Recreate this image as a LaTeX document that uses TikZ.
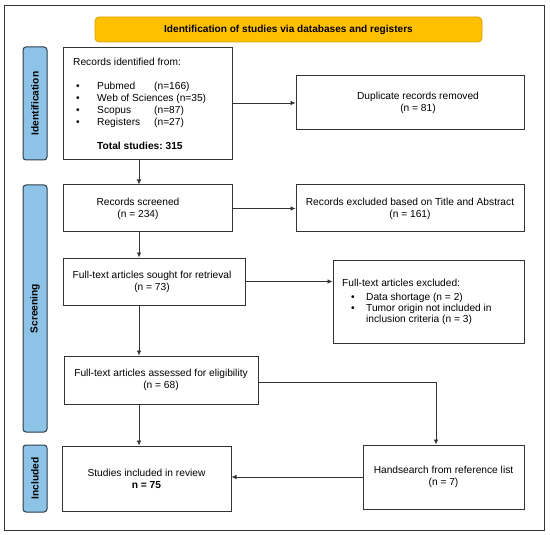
\documentclass[tikz,border=0pt]{standalone}
\usepackage{fontspec}
\setmainfont{Liberation Sans}
\usetikzlibrary{arrows.meta}
\frenchspacing
\definecolor{bannerfill}{HTML}{FFC000}
\definecolor{bannerline}{HTML}{D9A000}
\definecolor{sidefill}{HTML}{8EC3E8}
\definecolor{sideline}{HTML}{2E3B48}
\definecolor{frameline}{HTML}{333333}
\tikzset{
  box/.style={draw=frameline, line width=1pt, fill=white, inner sep=0pt, align=center,
    font=\fontsize{10.2}{12}\selectfont},
  sidebar/.style={draw=sideline, line width=1pt, fill=sidefill, rounded corners=3pt, inner sep=0pt,
    minimum width=24pt},
  sidetext/.style={rotate=90, font=\bfseries\fontsize{10.2}{12}\selectfont},
  banner/.style={draw=bannerline, line width=0.8pt, fill=bannerfill, rounded corners=4pt, inner sep=0pt,
    font=\bfseries\fontsize{10.1}{12}\selectfont},
  txt/.style={inner sep=0pt, anchor=base west, font=\fontsize{10.2}{12}\selectfont},
  ctxt/.style={inner sep=0pt, align=center, font=\fontsize{10.2}{12}\selectfont},
  arr/.style={draw=frameline, line width=0.7pt, -{Latex[length=5pt,width=4.5pt]}},
  ln/.style={draw=frameline, line width=0.7pt}
}
\begin{document}
\begin{tikzpicture}[x=1pt,y=-1pt]
\useasboundingbox (0,0) rectangle (550,535);
\draw[draw=frameline, line width=1pt] (4,6) rectangle (544,530);
% banner
\node[banner, minimum width=387pt, minimum height=25pt] (ban) at (288.5,29.5) {Identification of studies via databases and registers};
% side bars
\node[sidebar, minimum height=113pt] (sid) at (35,103.5) {};
\node[sidetext] (sidt) at (sid) {Identification};
\node[sidebar, minimum height=247pt] (sscr) at (35,308.5) {};
\node[sidetext] (sscrt) at (sscr) {Screening};
\node[sidebar, minimum height=67pt] (sinc) at (35,478.5) {};
\node[sidetext] (sinct) at (sinc) {Included};
% boxes
\node[box, minimum width=169pt, minimum height=112pt] (b1) at (147.5,104) {};
\node[txt] (b1t) at (73,66) {Records identified from:};
\node[txt] (b1a) at (76,89.5) {\textbullet};
\node[txt] (b1b) at (76,101.5) {\textbullet};
\node[txt] (b1c) at (76,113.5) {\textbullet};
\node[txt] (b1d) at (76,125.5) {\textbullet};
\node[txt] (p1) at (97,89.5) {Pubmed};
\node[txt] (p2) at (97,101.5) {Web of Sciences (n=35)};
\node[txt] (p3) at (97,113.5) {Scopus};
\node[txt] (p4) at (97,125.5) {Registers};
\node[txt] (n1) at (154,89.5) {(n=166)};
\node[txt] (n3) at (154,113.5) {(n=87)};
\node[txt] (n4) at (154,125.5) {(n=27)};
\node[txt, font=\bfseries\fontsize{10.2}{12}\selectfont] (tot) at (97,149.5) {Total studies: 315};

\node[box, minimum width=228pt, minimum height=54pt] (dup) at (410,103) {};
\node[ctxt] (dupt) at (418,103) {Duplicate records removed\\(n = 81)};
\node[box, minimum width=169pt, minimum height=47pt] (b2) at (147.5,208.5) {};
\node[ctxt] (b2t) at (138,208.5) {Records screened\\(n = 234)};
\node[box, minimum width=228pt, minimum height=47pt] (ex2) at (410,208.5) {Records excluded based on Title and Abstract\\(n = 161)};
\node[box, minimum width=182pt, minimum height=47pt] (b3) at (154,281.5) {};
\node[ctxt] (b3t) at (152,281.5) {Full-text articles sought for retrieval\\(n = 73)};
\node[box, minimum width=191pt, minimum height=83pt] (ex3) at (428.5,301.5) {};
\node[txt] (ex3t) at (342,286) {Full-text articles excluded:};
\node[txt] (ex3a) at (351,300) {\textbullet};
\node[txt] (ex3b) at (351,311) {\textbullet};
\node[txt] (ex3c) at (366,300) {Data shortage (n = 2)};
\node[txt] (ex3d) at (366,311) {Tumor origin not included in};
\node[txt] (ex3e) at (366,322) {inclusion criteria (n = 3)};
\node[box, minimum width=194pt, minimum height=48pt] (b4) at (161,380) {Full-text articles assessed for eligibility\\(n = 68)};
\node[box, minimum width=161pt, minimum height=64pt] (hand) at (443.5,477) {Handsearch from reference list\\(n = 7)};
\node[box, minimum width=169pt, minimum height=65pt] (b5) at (146.5,478.5) {Studies included in review\\\textbf{n = 75}};
% connectors
\coordinate (ax) at (139,0);
\coordinate (hx) at (436,382);
\draw[arr] (b1.south -| ax) -- (b2.north -| ax);
\draw[arr] (b2.south -| ax) -- (b3.north -| ax);
\draw[arr] (b3.south -| ax) -- (b4.north -| ax);
\draw[arr] (b4.south -| ax) -- (b5.north -| ax);
\draw[arr] (b1.east |- dup) -- (dup.west);
\draw[arr] (b2.east) -- (ex2.west);
\draw[arr] (b3.east) -- (b3.east -| ex3.west);
\draw[arr] (b4.east |- hx) -- (hx) -- (hand.north -| hx);
\draw[arr] (hand.west) -- (hand.west -| b5.east);
\end{tikzpicture}
\end{document}
